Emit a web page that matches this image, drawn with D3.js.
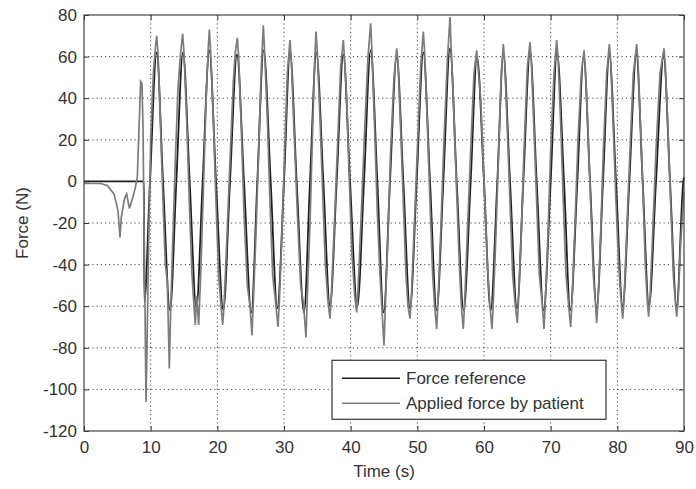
<!DOCTYPE html>
<html>
<head>
<meta charset="utf-8">
<script src="https://cdn.jsdelivr.net/npm/d3@7"></script>
<style>
  body { margin: 0; background: #fff; }
  svg { display: block; font-family: "Liberation Sans", Arial, sans-serif; }
</style>
</head>
<body>
<div id="chart"></div>
<script>
// Force reference vs applied force

const xTicks = [0, 10, 20, 30, 40, 50, 60, 70, 80, 90];
const yTicks = [-120, -100, -80, -60, -40, -20, 0, 20, 40, 60, 80];

const seriesNames = ["Force reference", "Applied force by patient"];

// Force reference: [time (s), force (N)]
const refPoints = [
  [0, 0], [9.0, 0], [9.05, -58], [9.9, 0], [10.9, 62], [11.85, 0], [12.9, -62], [13.85, 0],
  [14.85, 62], [15.85, 0], [16.85, -61], [17.8, 0], [18.8, 63], [19.8, 0], [20.9, -62], [21.9, 0],
  [22.95, 61], [24.0, 0], [25.1, -63], [26.0, 0], [26.95, 63], [28.0, 0], [29.0, -61], [30.0, 0],
  [30.9, 62], [31.9, 0], [33.0, -63], [33.9, 0], [34.85, 62], [35.9, 0], [36.9, -60], [37.9, 0],
  [38.9, 61], [39.9, 0], [41.0, -60], [42.0, 0], [43.0, 63], [44.0, 0], [44.95, -63], [45.9, 0],
  [46.9, 60], [47.9, 0], [48.9, -61], [49.9, 0], [50.9, 62], [51.9, 0], [52.9, -62], [53.9, 0],
  [54.9, 64], [55.9, 0], [56.95, -62], [58.0, 0], [58.95, 60], [60.0, 0], [61.0, -62], [62.0, 0],
  [62.9, 61], [63.9, 0], [64.95, -61], [65.9, 0], [66.9, 62], [67.9, 0], [68.95, -62], [70.0, 0],
  [70.95, 62], [72.0, 0], [72.95, -62], [74.0, 0], [74.95, 60], [75.9, 0], [76.9, -61], [77.85, 0],
  [78.8, 61], [79.8, 0], [80.8, -60], [81.8, 0], [82.85, 61], [83.8, 0], [84.75, -60], [85.8, 0],
  [86.95, 60], [87.9, 0], [88.9, -60], [89.9, 0], [90, 2]
];

// Applied force by patient: [time (s), force (N)]
const appliedPoints = [
  [0, -1], [2.5, -1], [3.5, -2], [4.5, -6], [5.1, -14], [5.4, -27], [5.6, -17], [6.1, -8],
  [6.4, -6], [6.8, -13], [7.3, -8], [7.7, -3], [8.0, 2], [8.3, 30], [8.5, 48], [8.7, 47],
  [8.85, 25], [9.0, -20], [9.15, -60], [9.3, -106], [9.45, -80], [9.7, -30], [10.0, 20], [10.4, 52],
  [10.7, 64], [10.9, 70], [11.1, 62], [11.4, 35], [11.8, -5], [12.2, -40], [12.5, -48], [12.8, -90],
  [13.0, -62], [13.3, -30], [13.7, 10], [14.1, 45], [14.5, 62], [14.8, 71], [15.0, 62], [15.4, 30],
  [15.8, -10], [16.2, -45], [16.5, -60], [16.7, -69], [16.9, -55], [17.2, -69], [17.5, -45], [17.9, -5],
  [18.3, 38], [18.6, 62], [18.8, 73], [19.0, 62], [19.4, 30], [19.8, -10], [20.2, -45], [20.5, -58],
  [20.8, -69], [21.0, -60], [21.4, -30], [21.9, 10], [22.4, 48], [22.7, 62], [23.0, 69], [23.2, 60],
  [23.6, 25], [24.0, -15], [24.5, -50], [24.9, -60], [25.2, -74], [25.4, -58], [25.8, -25], [26.2, 15],
  [26.6, 55], [26.9, 75], [27.1, 62], [27.5, 30], [27.9, -10], [28.3, -45], [28.8, -60], [29.1, -70],
  [29.3, -58], [29.7, -25], [30.1, 15], [30.5, 52], [30.9, 68], [31.1, 58], [31.5, 25], [32.0, -15],
  [32.5, -50], [32.9, -58], [33.3, -75], [33.5, -55], [33.9, -20], [34.3, 25], [34.6, 58], [34.8, 72],
  [35.0, 62], [35.4, 30], [35.8, -5], [36.2, -40], [36.6, -58], [36.9, -66], [37.1, -55], [37.5, -25],
  [38.0, 15], [38.5, 55], [38.9, 68], [39.1, 58], [39.4, 40], [39.8, 0], [40.2, -35], [40.6, -55],
  [40.9, -63], [41.1, -52], [41.6, -15], [42.1, 25], [42.6, 60], [43.0, 76], [43.2, 62], [43.6, 25],
  [44.0, -15], [44.4, -45], [44.7, -62], [45.0, -79], [45.2, -60], [45.6, -25], [46.0, 15], [46.5, 50],
  [46.9, 64], [47.1, 58], [47.5, 25], [47.9, -10], [48.3, -45], [48.6, -60], [48.9, -66], [49.1, -56],
  [49.5, -25], [50.0, 15], [50.5, 55], [50.9, 72], [51.1, 62], [51.5, 28], [51.9, -10], [52.3, -45],
  [52.6, -60], [52.9, -71], [53.1, -58], [53.5, -25], [54.0, 20], [54.5, 58], [54.9, 79], [55.1, 62],
  [55.4, 40], [55.9, -5], [56.3, -40], [56.6, -60], [56.9, -71], [57.1, -58], [57.5, -25], [58.0, 15],
  [58.5, 52], [58.9, 63], [59.1, 55], [59.5, 40], [60.0, 0], [60.5, -40], [60.9, -60], [61.2, -71],
  [61.4, -58], [61.8, -25], [62.2, 15], [62.6, 52], [62.9, 66], [63.1, 58], [63.5, 25], [63.9, -10],
  [64.3, -45], [64.7, -60], [65.0, -68], [65.2, -56], [65.6, -25], [66.0, 15], [66.5, 55], [66.9, 67],
  [67.1, 58], [67.5, 25], [67.9, -10], [68.3, -45], [68.7, -58], [69.0, -71], [69.2, -58], [69.6, -25],
  [70.0, 15], [70.5, 52], [70.9, 68], [71.1, 60], [71.5, 28], [71.9, -10], [72.3, -45], [72.7, -60],
  [73.0, -70], [73.2, -58], [73.6, -25], [74.1, 20], [74.6, 52], [75.0, 63], [75.2, 55], [75.6, 25],
  [76.0, -10], [76.4, -45], [76.7, -58], [76.9, -68], [77.1, -58], [77.5, -25], [77.9, 15], [78.4, 52],
  [78.8, 66], [79.0, 58], [79.4, 25], [79.8, -10], [80.2, -40], [80.5, -55], [80.8, -66], [81.0, -58],
  [81.4, -25], [81.9, 15], [82.4, 52], [82.9, 66], [83.1, 58], [83.5, 25], [83.9, -10], [84.2, -40],
  [84.5, -58], [84.7, -65], [84.9, -56], [85.3, -25], [85.8, 15], [86.4, 52], [87.0, 64], [87.2, 56],
  [87.6, 25], [88.0, -10], [88.4, -45], [88.7, -58], [88.9, -65], [89.1, -58], [89.5, -30], [90.0, -5]
];

const width = 696;
const height = 489;
const margin = {top: 15, right: 12, bottom: 58, left: 84};
const innerWidth = width - margin.left - margin.right;
const innerHeight = height - margin.top - margin.bottom;

const svg = d3.select("#chart")
    .append("svg")
    .attr("width", width)
    .attr("height", height);

const inner = svg.append("g")
    .attr("transform", `translate(${margin.left}, ${margin.top})`);

const xScale = d3.scaleLinear().domain([0, 90]).range([0, innerWidth]);
const yScale = d3.scaleLinear().domain([-120, 80]).range([innerHeight, 0]);

// dotted grid
inner.append("g")
    .selectAll("line")
    .data(xTicks.slice(1, -1))
    .join("line")
    .attr("x1", d => xScale(d)).attr("x2", d => xScale(d))
    .attr("y1", 0).attr("y2", innerHeight)
    .attr("stroke", "#444").attr("stroke-width", 1)
    .attr("stroke-dasharray", "1.2,3");

inner.append("g")
    .selectAll("line")
    .data(yTicks.slice(1, -1))
    .join("line")
    .attr("y1", d => yScale(d)).attr("y2", d => yScale(d))
    .attr("x1", 0).attr("x2", innerWidth)
    .attr("stroke", "#444").attr("stroke-width", 1)
    .attr("stroke-dasharray", "1.2,3");

// data lines
const line = d3.line()
    .x(d => xScale(d[0]))
    .y(d => yScale(d[1]));

inner.append("path")
    .datum(refPoints)
    .attr("d", line.curve(d3.curveMonotoneX))
    .attr("fill", "none")
    .attr("stroke", "#1e1e1e")
    .attr("stroke-width", 1.8);

inner.append("path")
    .datum(appliedPoints)
    .attr("d", line.curve(d3.curveLinear))
    .attr("fill", "none")
    .attr("stroke", "#7c7c7c")
    .attr("stroke-width", 1.7);

// axes with inward ticks on all four sides
const plain = d => String(d);

const styleAxis = g => {
    g.select(".domain").remove();
    g.selectAll(".tick line").attr("stroke", "#333");
    g.selectAll(".tick text")
        .attr("fill", "#333")
        .style("font-size", "17px")
        .style("font-family", "'Liberation Sans', Arial, sans-serif");
};

const ticksOnly = g => {
    g.select(".domain").remove();
    g.selectAll(".tick text").remove();
    g.selectAll(".tick line").attr("stroke", "#333");
};

inner.append("g")
    .attr("transform", `translate(0, ${innerHeight})`)
    .call(d3.axisBottom(xScale).tickValues(xTicks).tickFormat(plain).tickSizeInner(-5).tickSizeOuter(0).tickPadding(10))
    .call(styleAxis);

inner.append("g")
    .call(d3.axisTop(xScale).tickValues(xTicks).tickSizeInner(-5).tickSizeOuter(0))
    .call(ticksOnly);

inner.append("g")
    .call(d3.axisLeft(yScale).tickValues(yTicks).tickFormat(plain).tickSizeInner(-5).tickSizeOuter(0).tickPadding(7))
    .call(styleAxis);

inner.append("g")
    .attr("transform", `translate(${innerWidth}, 0)`)
    .call(d3.axisRight(yScale).tickValues(yTicks).tickSizeInner(-5).tickSizeOuter(0))
    .call(ticksOnly);

// frame
inner.append("rect")
    .attr("width", innerWidth)
    .attr("height", innerHeight)
    .attr("fill", "none")
    .attr("stroke", "#444")
    .attr("stroke-width", 1.2);

// axis titles
inner.append("text")
    .attr("x", innerWidth / 2)
    .attr("y", innerHeight + 46)
    .attr("text-anchor", "middle")
    .attr("fill", "#333")
    .style("font-size", "17px")
    .text("Time (s)");

inner.append("text")
    .attr("transform", "rotate(-90)")
    .attr("x", -innerHeight / 2)
    .attr("y", -56)
    .attr("text-anchor", "middle")
    .attr("fill", "#333")
    .style("font-size", "17px")
    .text("Force (N)");

// legend
const legend = inner.append("g")
    .attr("transform", `translate(${xScale(37.2)}, ${yScale(-86)})`);

legend.append("rect")
    .attr("width", 274)
    .attr("height", 59)
    .attr("fill", "#fff")
    .attr("stroke", "#333")
    .attr("stroke-width", 1.2);

const legendColors = ["#1e1e1e", "#7c7c7c"];

legend.selectAll("g.item")
    .data(seriesNames)
    .join("g")
    .attr("class", "item")
    .attr("transform", (d, i) => `translate(0, ${18 + i * 25})`)
    .each(function(d, i) {
        const g = d3.select(this);
        g.append("line")
            .attr("x1", 10).attr("x2", 68)
            .attr("stroke", legendColors[i])
            .attr("stroke-width", 1.5);
        g.append("text")
            .attr("x", 74)
            .attr("dy", "0.35em")
            .attr("fill", "#333")
            .style("font-size", "17px")
            .text(d);
    });
</script>
</body>
</html>
